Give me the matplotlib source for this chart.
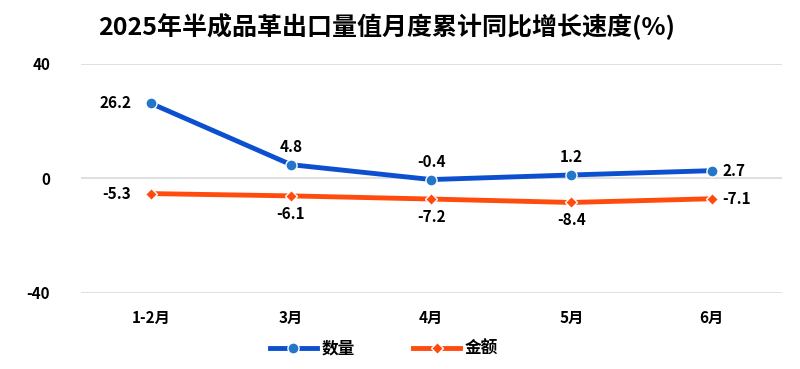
import matplotlib.pyplot as plt
import numpy as np

plt.rcParams['font.family'] = ['Noto Sans CJK SC', 'DejaVu Sans']
plt.rcParams['axes.unicode_minus'] = False

mois = ["1-2月", "3月", "4月", "5月", "6月"]
quantite = [26.2, 4.8, -0.4, 1.2, 2.7]
montant = [-5.3, -6.1, -7.2, -8.4, -7.1]

bleu = "#0D50CF"
bleu_pt = "#2476C9"
orange = "#FF4B0E"

fig = plt.figure(figsize=(8, 3.69), dpi=100)
ax = fig.add_axes([0.101, 0.206, 0.876, 0.621])
x = np.arange(len(mois))

ax.plot(x, quantite, color=bleu, lw=3.5, marker="o", ms=8,
        mfc=bleu_pt, mec="white", mew=1, label="数量", zorder=3)
ax.plot(x, montant, color=orange, lw=3.5, marker="D", ms=6,
        mfc=orange, mec="white", mew=1, label="金额", zorder=3)

# étiquettes des valeurs
for i, v in enumerate(quantite):
    if i == 0:
        ax.annotate(f"{v}", (i, v), xytext=(-14, 0), textcoords="offset points",
                    ha="right", va="center", fontsize=11, fontweight="bold")
    elif i == len(quantite) - 1:
        ax.annotate(f"{v}", (i, v), xytext=(8, 0), textcoords="offset points",
                    ha="left", va="center", fontsize=11, fontweight="bold")
    else:
        ax.annotate(f"{v}", (i, v), xytext=(0, 7), textcoords="offset points",
                    ha="center", va="bottom", fontsize=11, fontweight="bold")
for i, v in enumerate(montant):
    if i == 0:
        ax.annotate(f"{v}", (i, v), xytext=(-14, 0), textcoords="offset points",
                    ha="right", va="center", fontsize=11, fontweight="bold")
    elif i == len(montant) - 1:
        ax.annotate(f"{v}", (i, v), xytext=(8, 0), textcoords="offset points",
                    ha="left", va="center", fontsize=11, fontweight="bold")
    else:
        ax.annotate(f"{v}", (i, v), xytext=(0, -7), textcoords="offset points",
                    ha="center", va="top", fontsize=11, fontweight="bold")

ax.set_xlim(-0.5, len(mois) - 0.5)
ax.set_ylim(-40, 40)
ax.set_yticks([-40, 0, 40])
ax.set_xticks(x)
ax.set_xticklabels(mois, fontsize=11, fontweight="bold")
for lab in ax.get_yticklabels():
    lab.set_fontsize(11)
    lab.set_fontweight("bold")
ax.tick_params(length=0, pad=12)
ax.tick_params(axis="y", pad=22)
ax.grid(axis="y", color="#D9D9D9", lw=1.2)
ax.set_axisbelow(True)
for s in ax.spines.values():
    s.set_visible(False)

fig.suptitle("2025年半成品革出口量值月度累计同比增长速度(%)", x=0.483, y=0.965,
             fontsize=18, fontweight="heavy")
fig.legend(loc="lower center", bbox_to_anchor=(0.48, -0.01), ncol=2, frameon=False,
           prop={"size": 12, "weight": "bold"}, columnspacing=3.5, handlelength=2.8,
           handletextpad=0.3)

fig.savefig("out.png", dpi=100)
